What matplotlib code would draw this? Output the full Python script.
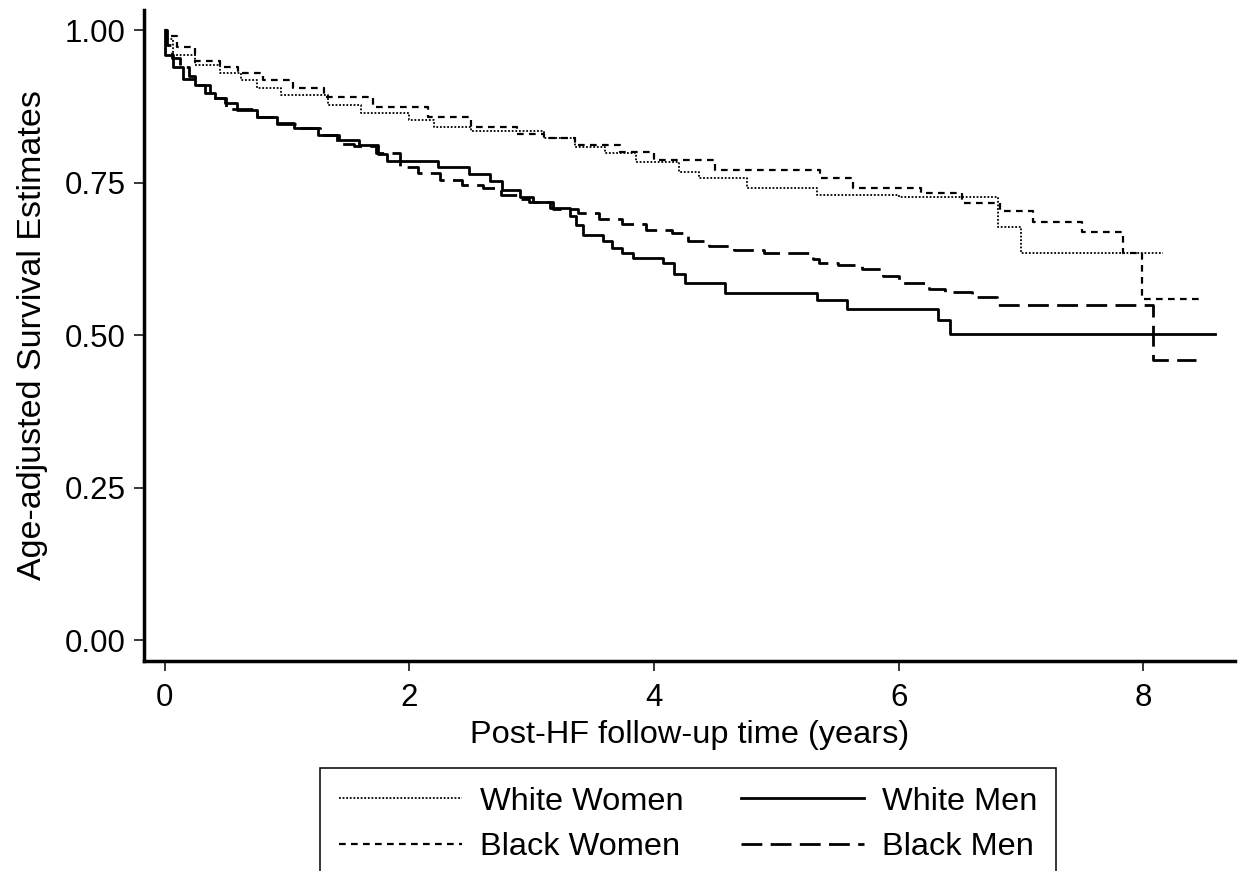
import matplotlib
matplotlib.use("Agg")
import matplotlib.pyplot as plt

plt.rcParams['font.family'] = ['Liberation Sans', 'DejaVu Sans']

# Kaplan-Meier style step curves (time in years, survival estimate)
t_white_women = [0, 0.02, 0.07, 0.25, 0.45, 0.62, 0.75, 0.95, 1.33, 1.60, 2.00, 2.20, 2.50,
                 3.10, 3.35, 3.60, 3.85, 4.20, 4.37, 4.76, 5.33, 6.00, 6.81, 7.00, 8.16]
s_white_women = [1.00, 0.985, 0.96, 0.943, 0.93, 0.918, 0.906, 0.893, 0.877, 0.864, 0.852, 0.841, 0.835,
                 0.823, 0.808, 0.798, 0.784, 0.767, 0.757, 0.741, 0.730, 0.727, 0.677, 0.634, 0.634]

t_black_women = [0, 0.02, 0.10, 0.25, 0.45, 0.60, 0.80, 1.05, 1.30, 1.70, 2.15, 2.50, 2.88,
                 3.10, 3.35, 3.72, 4.00, 4.50, 5.36, 5.63, 6.18, 6.52, 6.83, 7.10, 7.50,
                 7.83, 7.99, 8.47]
s_black_women = [1.00, 0.99, 0.972, 0.95, 0.94, 0.93, 0.918, 0.905, 0.89, 0.874, 0.857, 0.841, 0.83,
                 0.823, 0.811, 0.80, 0.787, 0.77, 0.757, 0.741, 0.733, 0.716, 0.703, 0.685, 0.669,
                 0.634, 0.56, 0.56]

t_white_men = [0, 0.005, 0.07, 0.15, 0.25, 0.33, 0.41, 0.49, 0.59, 0.75, 0.92, 1.06, 1.25, 1.42,
               1.59, 1.74, 1.82, 2.23, 2.49, 2.66, 2.76, 2.90, 3.01, 3.15, 3.31, 3.36, 3.42,
               3.58, 3.66, 3.74, 3.83, 4.07, 4.16, 4.25, 4.58, 5.33, 5.58, 6.32, 6.42, 8.59]
s_white_men = [1.00, 0.96, 0.94, 0.92, 0.91, 0.897, 0.889, 0.88, 0.869, 0.857, 0.848, 0.84, 0.828, 0.82,
               0.811, 0.797, 0.785, 0.775, 0.765, 0.752, 0.738, 0.727, 0.718, 0.708, 0.695, 0.680, 0.665,
               0.655, 0.643, 0.634, 0.627, 0.618, 0.600, 0.585, 0.569, 0.557, 0.543, 0.525, 0.502, 0.502]

t_black_men = [0, 0.02, 0.06, 0.12, 0.20, 0.25, 0.37, 0.50, 0.75, 0.92, 1.08, 1.27, 1.41, 1.55,
               1.73, 1.92, 2.07, 2.25, 2.43, 2.60, 2.75, 2.90, 2.98, 3.17, 3.38, 3.55, 3.74,
               3.93, 4.15, 4.28, 4.45, 4.65, 4.90, 5.30, 5.35, 5.50, 5.70, 5.87, 6.00, 6.25,
               6.38, 6.60, 6.80, 8.08, 8.43]
s_black_men = [1.00, 0.975, 0.955, 0.94, 0.925, 0.91, 0.889, 0.87, 0.857, 0.846, 0.84, 0.828, 0.813, 0.81,
               0.798, 0.776, 0.766, 0.754, 0.746, 0.741, 0.73, 0.723, 0.718, 0.707, 0.70, 0.69, 0.683,
               0.672, 0.667, 0.654, 0.646, 0.639, 0.634, 0.625, 0.618, 0.615, 0.608, 0.597, 0.585, 0.575,
               0.57, 0.562, 0.55, 0.46, 0.46]

x_ticks = [0, 2, 4, 6, 8]
y_ticks = [0.00, 0.25, 0.50, 0.75, 1.00]

fig = plt.figure(figsize=(12.46, 8.71), dpi=100)
ax = fig.add_axes([0.1156, 0.2411, 0.8756, 0.7474])

l1, = ax.step(t_white_women, s_white_women, where='post', color='black', lw=1.3,
              linestyle=(0, (1, 1)))
l2, = ax.step(t_black_women, s_black_women, where='post', color='black', lw=1.6,
              linestyle=(0, (3, 2.4)))
l3, = ax.step(t_white_men, s_white_men, where='post', color='black', lw=2.0,
              linestyle='-')
l4, = ax.step(t_black_men, s_black_men, where='post', color='black', lw=2.0,
              linestyle=(0, (7.5, 3)))

ax.set_xlim(-0.17, 8.75)
ax.set_ylim(-0.034, 1.033)
ax.set_xticks(x_ticks)
ax.set_xticklabels([str(v) for v in x_ticks])
ax.set_yticks(y_ticks)
ax.set_yticklabels([f"{v:.2f}" for v in y_ticks])

for side in ['top', 'right']:
    ax.spines[side].set_visible(False)
for side in ['left', 'bottom']:
    ax.spines[side].set_linewidth(2.5)
    ax.spines[side].set_color('black')

ax.tick_params(axis='both', direction='out', length=7, width=1.1, labelsize=22.5, colors='black')
ax.tick_params(axis='y', pad=6)
ax.tick_params(axis='x', pad=9)

ax.set_xlabel("Post-HF follow-up time (years)", fontsize=23.4, labelpad=5)
ax.set_ylabel("Age-adjusted Survival Estimates", fontsize=24.5, labelpad=12)

leg = fig.legend([l1, l2, l3, l4],
                 ["White Women", "Black Women", "White Men", "Black Men"],
                 ncol=2, loc='upper left',
                 bbox_to_anchor=(320 / 1246, 1 - 768 / 871), bbox_transform=fig.transFigure,
                 frameon=True, fancybox=False, edgecolor='black', framealpha=1,
                 borderaxespad=0, handlelength=3.8, handletextpad=0.55,
                 columnspacing=1.75, labelspacing=0.47, borderpad=0.58, fontsize=23.4)
leg.get_frame().set_linewidth(1.1)

fig.savefig("out.png", dpi=100, facecolor='white')
